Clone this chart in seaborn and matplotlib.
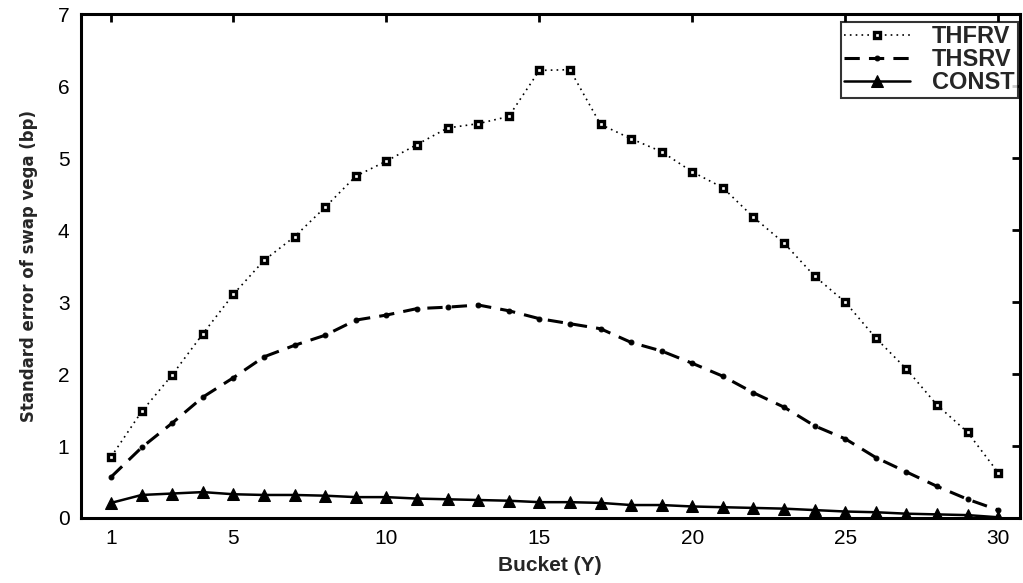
import numpy as np
import pandas as pd
import seaborn as sns
import matplotlib.pyplot as plt

# bucket maturities (years)
buckets = list(range(1, 31))

thfrv = [0.85, 1.48, 1.99, 2.56, 3.11, 3.58, 3.91, 4.32, 4.75, 4.96,
         5.19, 5.42, 5.48, 5.58, 6.22, 6.23, 5.47, 5.27, 5.09, 4.81,
         4.59, 4.18, 3.82, 3.36, 3.00, 2.50, 2.07, 1.57, 1.19, 0.63]
thsrv = [0.57, 0.98, 1.32, 1.68, 1.95, 2.24, 2.40, 2.54, 2.75, 2.82,
         2.91, 2.93, 2.96, 2.88, 2.77, 2.70, 2.63, 2.44, 2.32, 2.15,
         1.97, 1.74, 1.54, 1.28, 1.10, 0.84, 0.64, 0.44, 0.26, 0.11]
const = [0.21, 0.32, 0.34, 0.36, 0.33, 0.32, 0.32, 0.31, 0.29, 0.29,
         0.27, 0.26, 0.25, 0.24, 0.22, 0.22, 0.21, 0.18, 0.18, 0.16,
         0.15, 0.14, 0.13, 0.11, 0.09, 0.08, 0.06, 0.05, 0.04, 0.01]

x_ticks = [1, 5, 10, 15, 20, 25, 30]
y_ticks = [0, 1, 2, 3, 4, 5, 6, 7]

df = pd.DataFrame({"Bucket": buckets, "THFRV": thfrv, "THSRV": thsrv, "CONST": const})

sns.set_style("white")
plt.rcParams['font.family'] = ['Liberation Sans', 'DejaVu Sans']
plt.rcParams['xtick.direction'] = 'in'
plt.rcParams['ytick.direction'] = 'in'

fig = plt.figure(figsize=(10.23, 5.83), dpi=100)
ax = fig.add_axes([0.0787, 0.1115, 0.918, 0.864])

sns.lineplot(data=df, x="Bucket", y="THFRV", ax=ax, color="black", lw=1.2,
             linestyle=(0, (1, 2.5)), marker="s", markersize=4.3,
             markerfacecolor="white", markeredgecolor="black", markeredgewidth=2.4,
             label="THFRV")
sns.lineplot(data=df, x="Bucket", y="THSRV", ax=ax, color="black", lw=2.2,
             linestyle=(0, (5, 3)), marker="o", markersize=3.5,
             markerfacecolor="black", markeredgecolor="black",
             label="THSRV")
sns.lineplot(data=df, x="Bucket", y="CONST", ax=ax, color="black", lw=1.8,
             linestyle="-", marker="^", markersize=8,
             markerfacecolor="black", markeredgecolor="black",
             label="CONST")

ax.set_xlim(0, 30.7)
ax.set_ylim(0, 7)
ax.set_xticks(x_ticks)
ax.set_yticks(y_ticks)
ax.tick_params(axis="both", which="both", direction="in", length=6, width=2,
               top=True, right=True, labelsize=15, pad=8, colors="black")
for s in ax.spines.values():
    s.set_visible(True)
    s.set_linewidth(2.2)
    s.set_color("black")

ax.set_xlabel("Bucket (Y)", fontsize=15, fontweight="bold", labelpad=6)
ax.set_ylabel("Standard error of swap vega (bp)", fontsize=13.2, fontweight="bold",
              family="DejaVu Sans", fontstretch="condensed", labelpad=14)

leg = ax.legend(loc="upper right", bbox_to_anchor=(0.998, 0.985),
                prop={"weight": "bold", "size": 17}, frameon=True, fancybox=False,
                edgecolor="black", borderpad=0.15, labelspacing=0.0,
                handlelength=2.8, handletextpad=0.9, borderaxespad=0)
for t in leg.get_texts():
    t.set_fontweight("bold")
    t.set_fontsize(17)
leg.get_frame().set_linewidth(1.5)

fig.savefig("out.png", dpi=100)
